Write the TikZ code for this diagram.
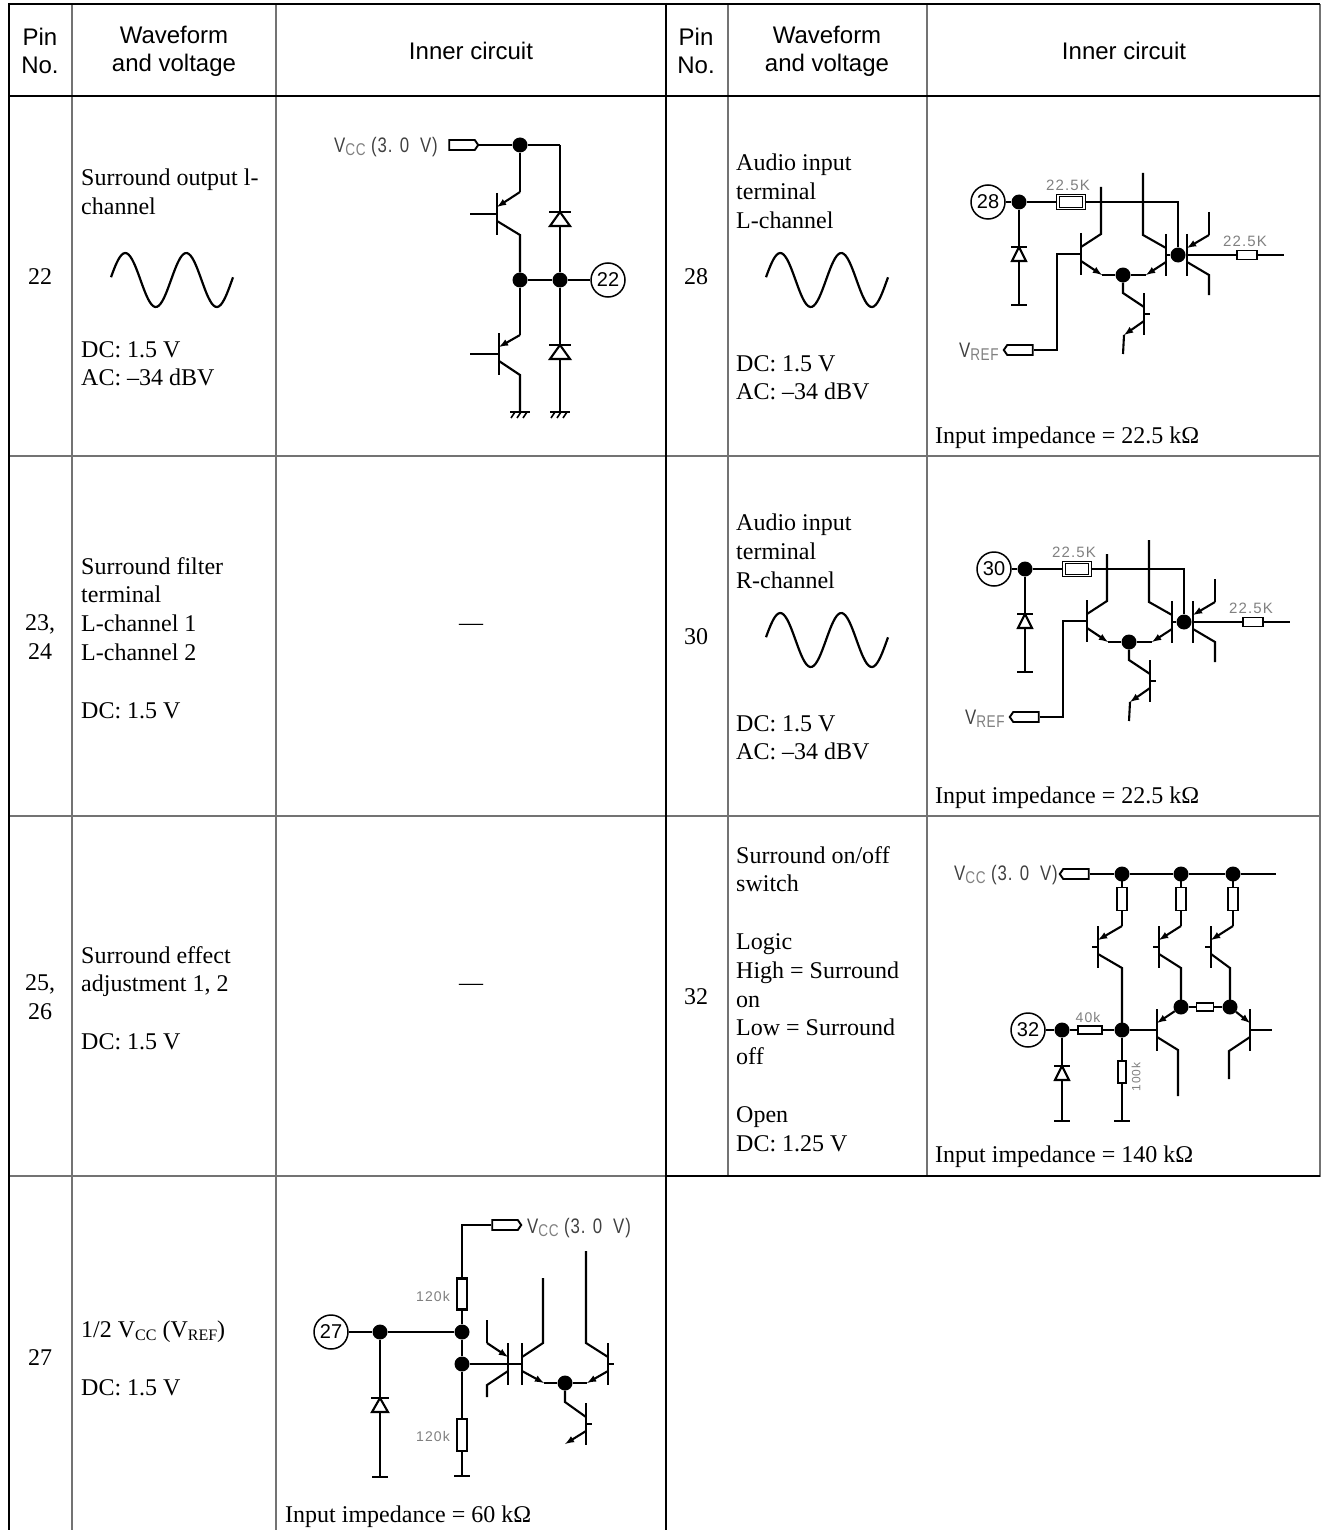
\documentclass[tikz,border=0pt]{standalone}
\usepackage{fontspec}
\setmainfont{Liberation Serif}
\setsansfont{Liberation Sans}
\newfontfamily\gothic[FakeStretch=.8,LetterSpace=4]{Liberation Sans}
\newfontfamily\gothicsm[LetterSpace=8]{Liberation Sans}
\usetikzlibrary{arrows, shapes.symbols}

\tikzset{
  gridthin/.style={line width=1.3pt, black!55},
  gridthick/.style={line width=2.6pt, black},
  txt/.style={anchor=north west, inner sep=0pt, align=left, font=\fontsize{24}{28.8}\selectfont},
  oneline/.style={anchor=base west, inner sep=0pt, font=\fontsize{24}{28.8}\selectfont},
  pinno/.style={inner sep=0pt, align=center, font=\fontsize{24}{28.8}\selectfont},
  hdr/.style={inner sep=0pt, align=center, font=\sffamily\fontsize{24}{28}\selectfont},
  wire/.style={line width=2.1pt, black},
  wave/.style={line width=2.2pt, black},
  dot/.style={circle, fill=black, inner sep=0pt, minimum size=15pt},
  pinc/.style={circle, draw, line width=1.5pt, inner sep=0pt, minimum size=34pt, font=\sffamily\fontsize{20}{20}\selectfont},
  term/.style={signal, draw, line width=1.9pt, inner sep=0pt, minimum width=29pt, minimum height=10pt, signal pointer angle=110},
  res/.style 2 args={rectangle, draw, line width=1.9pt, inner sep=0pt, minimum width=#1pt, minimum height=#2pt},
  resd/.style={double, double distance=1.2pt, line width=1.2pt},
  vlab/.style={inner sep=0pt, black!75, font=\gothic\fontsize{21}{21}\selectfont},
  lab/.style={inner sep=0pt, black!50, font=\gothicsm\fontsize{15}{15}\selectfont},
  >=latex
}

% subscripts
\newcommand{\sbs}[1]{\raisebox{-3pt}{\fontsize{16}{16}\selectfont #1}}
\newcommand{\sbg}[1]{\raisebox{-3pt}{\textcolor{black!50}{\fontsize{17}{17}\selectfont #1}}}

% name, x, y of the base
\newcommand{\qbar}[3]{
  \coordinate (#1t) at (#2,#3-21);
  \coordinate (#1l) at (#2,#3+21);
  \coordinate (#1b) at (#2,#3);
  \coordinate (#1u) at (#2,#3-7);
  \coordinate (#1d) at (#2,#3+7);
  \draw[wire] (#1t) -- (#1l);
}
% half width, name, x, y of the bar
\newcommand{\diod}[4][8]{
  \coordinate (#2t) at (#3,#4);
  \coordinate (#2b) at (#3,#4+14);
  \draw[wire] (#3-#1-1,#4) -- (#3+#1+1,#4);
  \draw[wire] (#2t) -- (#3-#1,#4+14) -- (#3+#1,#4+14) -- cycle;
}
\newcommand{\gbar}[3]{
  \coordinate (#1) at (#2,#3);
  \draw[wire] (#2-8,#3) -- (#2+8,#3);
}
\newcommand{\ghatch}[3]{
  \coordinate (#1) at (#2,#3);
  \draw[wire] (#2-10,#3) -- (#2+10,#3);
  \foreach \hh in {-6,0,6} \draw[line width=1.6pt] (#2+\hh+1,#3) -- (#2+\hh-3,#3+6);
}
% one audio input circuit
\newcommand{\audiocirc}[1]{
  \node[pinc] (p) at (988,202) {#1};
  \node[dot] (a) at (1019,202) {};
  \node[res={26}{13},resd] (r1) at (1071,202) {};
  \node[lab] (r1l) at (1068,185) {22.5K};
  \coordinate (k) at (1178,202);
  \node[dot] (c) at (1178,255) {};
  \draw[wire] (p) -- (a) -- (r1) -- (k) -- (c);
  \diod[7]{d}{1019}{247}
  \gbar{g}{1019}{305}
  \draw[wire] (a) -- (dt) (db) -- (g);
  \node[term,signal to=west] (vr) at (1020,350) {};
  \node[vlab,anchor=east] (vrl) at (999,352) {V\sbg{REF}};
  \coordinate (vk) at (1057,350);
  \qbar{q1}{1081}{254}
  \draw[wire] (vr) -- (vk) |- (q1b);
  \coordinate (q1c) at (1101,187);
  \coordinate (q1m) at (1101,234);
  \draw[wire] (q1c) -- (q1m) -- (q1u);
  \node[dot] (e) at (1123,275) {};
  \coordinate (q1e) at (1102,275);
  \draw[wire,->] (q1d) -- (q1e);
  \draw[wire] (q1e) -- (e);
  \qbar{q2}{1166}{255}
  \coordinate (q2c) at (1143,173);
  \coordinate (q2m) at (1143,235);
  \draw[wire] (q2c) -- (q2m) -- (q2u);
  \draw[wire] (q2b) -- (c);
  \coordinate (q2e) at (1146,275);
  \draw[wire,->] (q2d) -- (q2e);
  \draw[wire] (q2e) -- (e);
  \qbar{q3}{1187}{255}
  \coordinate (q3c) at (1209,212);
  \coordinate (q3m) at (1209,235);
  \draw[wire] (q3c) -- (q3m);
  \draw[wire,->] (q3m) -- (q3u);
  \coordinate (q3e) at (1209,275);
  \coordinate (q3f) at (1209,295);
  \draw[wire] (q3d) -- (q3e) -- (q3f);
  \node[res={20}{9}] (r2) at (1247,255) {};
  \node[lab] (r2l) at (1245,241) {22.5K};
  \coordinate (o) at (1284,255);
  \draw[wire] (c) -- (r2) -- (o);
  \qbar{q4}{1144}{314}
  \coordinate (e2) at (1123,293);
  \draw[wire] (e) -- (e2) -- (q4u);
  \coordinate (q4s) at (1150,314);
  \draw[wire] (q4b) -- (q4s);
  \coordinate (q4e) at (1124,335);
  \coordinate (q4f) at (1123,354);
  \draw[wire,->] (q4d) -- (q4e);
  \draw[wire] (q4e) -- (q4f);
}

\begin{document}
\begin{tikzpicture}[x=1pt,y=-1pt]
\useasboundingbox (0,0) rectangle (1321,1530);
% table
\foreach \cx in {72,276} \draw[gridthin] (\cx,4) -- (\cx,1530);
\foreach \cx in {728,927} \draw[gridthin] (\cx,4) -- (\cx,1176);
\draw[gridthin] (1320,4) -- (1320,1177);
\foreach \ry in {456,816} \draw[gridthin] (9,\ry) -- (1320,\ry);
\draw[gridthin] (9,1176) -- (666,1176);
\draw[gridthick] (666,1176) -- (1320,1176);
\draw[gridthick] (9,4) -- (1320,4);
\draw[gridthick] (9,96) -- (1320,96);
\draw[gridthick] (9,3) -- (9,1530);
\draw[gridthick] (666,3) -- (666,1530);
% headers
\foreach \hx/\hh in {0/a,656/b}{
  \node[hdr] (pin\hh) at (40+\hx,51) {Pin\\No.};
  \node[hdr] (wav\hh) at (174+\hx-3*\hx/656,51) {Waveform\\and voltage};
  \node[hdr] (inn\hh) at (471+\hx-3*\hx/656,51) {Inner circuit};
}
% left column
\node[pinno] (n22) at (40,277) {22};
\node[pinno] (n23) at (40,637) {23,\\24};
\node[pinno] (n25) at (40,997) {25,\\26};
\node[pinno] (n27) at (40,1358) {27};
\node[txt] (t22) at (81,169) {Surround output l-\\channel};
\node[txt] (t22b) at (81,341) {DC: 1.5 V\\AC: –34 dBV};
\node[txt] (t23) at (81,557) {Surround filter\\terminal\\L-channel 1\\L-channel 2\\[28.8pt]DC: 1.5 V};
\node[txt] (t25) at (81,946) {Surround effect\\adjustment 1, 2\\[28.8pt]DC: 1.5 V};
\node[txt] (t27) at (81,1321) {1/2 V\sbs{CC} (V\sbs{REF})\\[28.8pt]DC: 1.5 V};
\node[pinno] (dash23) at (471,627) {—};
\node[pinno] (dash25) at (471,987) {—};
% right column
\node[pinno] (n28) at (696,277) {28};
\node[pinno] (n30) at (696,637) {30};
\node[pinno] (n32) at (696,997) {32};
\node[txt] (t28) at (736,154) {Audio input\\terminal\\L-channel};
\node[txt] (t28b) at (736,355) {DC: 1.5 V\\AC: –34 dBV};
\node[txt] (t30) at (736,514) {Audio input\\terminal\\R-channel};
\node[txt] (t30b) at (736,715) {DC: 1.5 V\\AC: –34 dBV};
\node[txt] (t32) at (736,846) {Surround on/off\\switch\\[28.8pt]Logic\\High = Surround\\on\\Low = Surround\\off\\[28.8pt]Open\\DC: 1.25 V};
\node[oneline] (z28) at (935,443) {Input impedance = 22.5 kΩ};
\node[oneline] (z30) at (935,803) {Input impedance = 22.5 kΩ};
\node[oneline] (z32) at (935,1162) {Input impedance = 140 kΩ};
\node[oneline] (z27) at (285,1522) {Input impedance = 60 kΩ};
% waves
\foreach \wx/\wy in {0/0,655/0,655/360}
  \draw[wave,shift={(\wx,\wy)}] plot[smooth,domain=111:233,samples=70] (\x,{280-27*sin((\x-110)*5.9)});

% pin 22
\begin{scope}[name prefix=s-]
\node[term,signal to=east] (vcc) at (462,145) {};
\node[vlab,anchor=east] (vccl) at (438,147) {V\sbg{CC} (3. 0~~V)};
\node[dot] (n1) at (520,145) {};
\coordinate (k) at (560,145);
\node[dot] (n2) at (520,280) {};
\node[dot] (n3) at (560,280) {};
\node[pinc] (p) at (608,280) {22};
\draw[wire] (vcc) -- (n1) -- (k);
\draw[wire] (n2) -- (n3) -- (p);
\qbar{q1}{497}{214}
\coordinate (q1e) at (520,192);
\coordinate (q1c) at (520,235);
\coordinate (q1s) at (470,214);
\draw[wire] (n1) -- (q1e);
\draw[wire,->] (q1e) -- (q1u);
\draw[wire] (q1d) -- (q1c) -- (n2);
\draw[wire] (q1s) -- (q1b);
\qbar{q2}{499}{354}
\coordinate (q2e) at (520,335);
\coordinate (q2c) at (520,375);
\coordinate (q2s) at (470,354);
\draw[wire] (n2) -- (q2e);
\draw[wire,->] (q2e) -- (q2u);
\draw[wire] (q2s) -- (q2b);
\ghatch{g1}{520}{412}
\ghatch{g2}{560}{412}
\draw[wire] (q2d) -- (q2c) -- (g1);
\diod[10]{d1}{560}{212}
\diod[10]{d2}{560}{345}
\draw[wire] (k) -- (d1t) (d1b) -- (n3) -- (d2t) (d2b) -- (g2);
\end{scope}

% pins 28 and 30
\begin{scope}[name prefix=a-]
\audiocirc{28}
\end{scope}
\begin{scope}[name prefix=b-,shift={(6,367)}]
\audiocirc{30}
\end{scope}

% pin 32
\begin{scope}[name prefix=c-]
\node[term,signal to=west] (vcc) at (1076,874) {};
\node[vlab,anchor=east] (vccl) at (1058,875) {V\sbg{CC} (3. 0~~V)};
\node[dot] (n1) at (1122,874) {};
\node[dot] (n2) at (1181,874) {};
\node[dot] (n3) at (1233,874) {};
\coordinate (end) at (1276,874);
\draw[wire] (vcc) -- (n1) -- (n2) -- (n3) -- (end);
\foreach \qq/\qx/\rx/\cx/\cy in {q1/1098/1122/1122/1030,q2/1159/1181/1181/1007,q3/1211/1233/1230/1007}{
  \node[res={10}{23}] (r\qq) at (\rx,899) {};
  \draw[wire] (\rx,874) -- (r\qq);
  \qbar{\qq}{\qx}{947}
  \coordinate (\qq e) at (\rx,926);
  \coordinate (\qq c) at (\cx,968);
  \coordinate (\qq s) at (\qx-6,947);
  \draw[wire] (r\qq) -- (\qq e);
  \draw[wire,->] (\qq e) -- (\qq u);
  \draw[wire] (\qq s) -- (\qq b);
  \draw[wire] (\qq d) -- (\qq c) -- (\cx,\cy);
}
\node[pinc] (p) at (1028,1030) {32};
\node[dot] (a) at (1062,1030) {};
\node[dot] (j) at (1122,1030) {};
\node[dot] (h1) at (1181,1007) {};
\node[dot] (h2) at (1230,1007) {};
\node[res={17}{8}] (rh) at (1205,1007) {};
\draw[wire] (h1) -- (rh) -- (h2);
\node[res={24}{8}] (ra) at (1090,1030) {};
\node[lab,font=\gothicsm\fontsize{14}{14}\selectfont] (ral) at (1088,1017) {40k};
\draw[wire] (p) -- (a) -- (ra) -- (j);
\diod[7]{d}{1062}{1066}
\gbar{g1}{1062}{1121}
\draw[wire] (a) -- (dt) (db) -- (g1);
\node[res={8}{22}] (rb) at (1122,1072) {};
\node[lab,rotate=90,font=\gothicsm\fontsize{12}{12}\selectfont] (rbl) at (1136,1077) {100k};
\gbar{g2}{1122}{1121}
\draw[wire] (j) -- (rb) -- (g2);
\qbar{q4}{1157}{1030}
\draw[wire] (j) -- (q4b);
\draw[wire,->] (h1) -- (q4u);
\coordinate (q4c) at (1178,1050);
\coordinate (q4f) at (1178,1096);
\draw[wire] (q4d) -- (q4c) -- (q4f);
\qbar{q5}{1250}{1030}
\coordinate (q5s) at (1272,1030);
\draw[wire] (q5b) -- (q5s);
\draw[wire,->] (h2) -- (q5u);
\coordinate (q5c) at (1229,1051);
\coordinate (q5f) at (1229,1079);
\draw[wire] (q5d) -- (q5c) -- (q5f);
\end{scope}

% pin 27
\begin{scope}[name prefix=v-]
\node[term,signal to=east] (vcc) at (505,1225) {};
\node[vlab,anchor=west] (vccl) at (527,1228) {V\sbg{CC} (3. 0~~V)};
\coordinate (k) at (462,1225);
\node[res={10}{31},line width=2.6pt] (r1) at (462,1294) {};
\node[lab,font=\gothicsm\fontsize{14}{14}\selectfont] (r1l) at (433,1296) {120k};
\node[dot] (n1) at (462,1332) {};
\node[dot] (n2) at (462,1364) {};
\node[res={10}{32},line width=2.6pt] (r2) at (462,1435) {};
\node[lab,font=\gothicsm\fontsize{14}{14}\selectfont] (r2l) at (433,1436) {120k};
\gbar{g1}{462}{1476}
\draw[wire] (vcc) -- (k) -- (r1) -- (n1) -- (n2) -- (r2) -- (g1);
\node[pinc] (p) at (331,1332) {27};
\node[dot] (a) at (380,1332) {};
\draw[wire] (p) -- (a) -- (n1);
\diod{d}{380}{1398}
\gbar{g2}{380}{1477}
\draw[wire] (a) -- (dt) (db) -- (g2);
\qbar{q1}{508}{1364}
\coordinate (q1c) at (487,1320);
\coordinate (q1m) at (487,1343);
\coordinate (q1n) at (487,1385);
\coordinate (q1f) at (487,1397);
\draw[wire] (q1c) -- (q1m);
\draw[wire,->] (q1m) -- (q1u);
\draw[wire] (q1d) -- (q1n) -- (q1f);
\qbar{q2}{522}{1364}
\draw[wire] (n2) -- (q2b);
\coordinate (q2m) at (543,1343);
\coordinate (q2c) at (543,1278);
\draw[wire] (q2u) -- (q2m) -- (q2c);
\node[dot] (e) at (565,1383) {};
\coordinate (q2e) at (544,1383);
\draw[wire,->] (q2d) -- (q2e);
\draw[wire] (q2e) -- (e);
\qbar{q3}{608}{1364}
\coordinate (q3s) at (614,1364);
\draw[wire] (q3b) -- (q3s);
\coordinate (q3m) at (586,1343);
\coordinate (q3c) at (586,1251);
\draw[wire] (q3u) -- (q3m) -- (q3c);
\coordinate (q3e) at (587,1383);
\draw[wire,->] (q3d) -- (q3e);
\draw[wire] (q3e) -- (e);
\qbar{q4}{586}{1424}
\coordinate (q4s) at (592,1424);
\draw[wire] (q4b) -- (q4s);
\coordinate (e2) at (565,1402);
\draw[wire] (e) -- (e2) -- (q4u);
\coordinate (q4e) at (565,1444);
\draw[wire,->] (q4d) -- (q4e);
\end{scope}
\end{tikzpicture}
\end{document}
